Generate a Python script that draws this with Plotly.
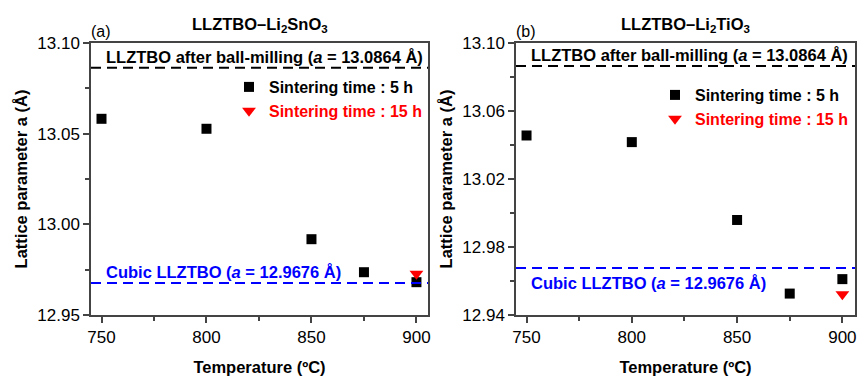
import plotly.graph_objects as go
from plotly.subplots import make_subplots

# ---- data ----
temps = [750, 800, 850, 875, 900]
sn_5h = [13.0582, 13.0527, 12.9918, 12.9736, 12.9681]
sn_15h_temp = [900]
sn_15h = [12.9727]
ti_5h = [13.0456, 13.0417, 12.9959, 12.9526, 12.9611]
ti_15h_temp = [900]
ti_15h = [12.9522]
ball_milled = 13.0864
cubic = 12.9676

FONT = "Liberation Sans, Arial, sans-serif"

# layout geometry (pixels)
W, H = 857, 377
ML, MR, MT, MB = 91, 2, 43, 62
PW, PH = W - ML - MR, H - MT - MB


def px(xp):
    return (xp - ML) / PW


def py(yp):
    return (H - MB - yp) / PH


fig = make_subplots(rows=1, cols=2)

fig.add_trace(go.Scatter(x=temps, y=sn_5h, mode="markers", name="<b>Sintering time : 5 h</b>",
                         marker=dict(symbol="square", size=10, color="black"),
                         legend="legend"), row=1, col=1)
fig.add_trace(go.Scatter(x=sn_15h_temp, y=sn_15h, mode="markers",
                         name="<b><span style='color:#ff0000'>Sintering time : 15 h</span></b>",
                         marker=dict(symbol="triangle-down", size=12, color="#ff0000"),
                         legend="legend"), row=1, col=1)
fig.add_trace(go.Scatter(x=temps, y=ti_5h, mode="markers", name="<b>Sintering time : 5 h</b>",
                         marker=dict(symbol="square", size=10, color="black"),
                         legend="legend2"), row=1, col=2)
fig.add_trace(go.Scatter(x=ti_15h_temp, y=ti_15h, mode="markers",
                         name="<b><span style='color:#ff0000'>Sintering time : 15 h</span></b>",
                         marker=dict(symbol="triangle-down", size=12, color="#ff0000"),
                         legend="legend2"), row=1, col=2)

for xr, yr in (("x", "y"), ("x2", "y2")):
    fig.add_shape(type="line", xref=f"{xr} domain", yref=yr, x0=0, x1=1, y0=ball_milled, y1=ball_milled,
                  line=dict(color="black", width=2, dash="10px,6px"))
    fig.add_shape(type="line", xref=f"{xr} domain", yref=yr, x0=0, x1=1, y0=cubic, y1=cubic,
                  line=dict(color="#0000ff", width=2, dash="10px,6px"))

axis_common = dict(showline=True, linecolor="#444", linewidth=1.5, mirror=True,
                   ticks="outside", ticklen=6, tickwidth=1.5, tickcolor="#444",
                   showgrid=False, zeroline=False,
                   tickfont=dict(family=FONT, size=17, color="black"),
                   minor=dict(ticks="outside", ticklen=4, tickwidth=1.5, tickcolor="#444", showgrid=False))

fig.update_xaxes(axis_common)
fig.update_yaxes(axis_common)

title_font = dict(family=FONT, size=16.5, color="black")
fig.update_xaxes(range=[745, 905.5], tickvals=[750, 800, 850, 900], minor=dict(tickvals=[775, 825, 875]),
                 title=dict(text="<b>Temperature (ºC)</b>", font=title_font), row=1, col=1)
fig.update_xaxes(range=[745, 906], tickvals=[750, 800, 850, 900], minor=dict(tickvals=[775, 825, 875]),
                 title=dict(text="<b>Temperature (ºC)</b>", font=title_font), row=1, col=2)
fig.update_yaxes(range=[12.95, 13.10], tickvals=[12.95, 13.00, 13.05, 13.10], tickformat=".2f",
                 minor=dict(tickvals=[12.975, 13.025, 13.075]),
                 title=dict(text="<b>Lattice parameter a (Å)</b>", font=title_font, standoff=6), row=1, col=1)
fig.update_yaxes(range=[12.94, 13.10], tickvals=[12.94, 12.98, 13.02, 13.06, 13.10], tickformat=".2f",
                 minor=dict(tickvals=[12.96, 13.00, 13.04, 13.08]),
                 title=dict(text="<b>Lattice parameter a (Å)</b>", font=title_font, standoff=6), row=1, col=2)

ann_font = dict(family=FONT, size=16.5, color="black")
blue_font = dict(family=FONT, size=16.5, color="#0000ff")
small_font = dict(family=FONT, size=16, color="black")
annotations = [
    dict(text="<b>LLZTBO–Li<sub>2</sub>SnO<sub>3</sub></b>", xref="x domain", yref="paper", x=0.5, y=py(25),
         showarrow=False, xanchor="center", yanchor="middle", font=dict(family=FONT, size=16.5, color="black")),
    dict(text="<b>LLZTBO–Li<sub>2</sub>TiO<sub>3</sub></b>", xref="x2 domain", yref="paper", x=0.5, y=py(25),
         showarrow=False, xanchor="center", yanchor="middle", font=dict(family=FONT, size=16.5, color="black")),
    dict(text="(a)", xref="paper", yref="paper", x=px(89), y=py(32), showarrow=False,
         xanchor="left", yanchor="middle", font=small_font),
    dict(text="(b)", xref="paper", yref="paper", x=px(514), y=py(32), showarrow=False,
         xanchor="left", yanchor="middle", font=small_font),
    dict(text="<b>LLZTBO after ball-milling (<i>a</i> = 13.0864 Å)</b>", xref="paper", yref="paper",
         x=px(264), y=py(57), showarrow=False, xanchor="center", yanchor="middle", font=ann_font),
    dict(text="<b>LLZTBO after ball-milling (<i>a</i> = 13.0864 Å)</b>", xref="paper", yref="paper",
         x=px(689), y=py(55), showarrow=False, xanchor="center", yanchor="middle", font=ann_font),
    dict(text="<b>Cubic LLZTBO (<i>a</i> = 12.9676 Å)</b>", xref="paper", yref="paper",
         x=px(104), y=py(272), showarrow=False, xanchor="left", yanchor="middle", font=blue_font),
    dict(text="<b>Cubic LLZTBO (<i>a</i> = 12.9676 Å)</b>", xref="paper", yref="paper",
         x=px(529), y=py(283), showarrow=False, xanchor="left", yanchor="middle", font=blue_font),
]

legend_font = dict(family=FONT, size=16, color="black")
fig.update_layout(
    width=W, height=H,
    margin=dict(l=ML, r=MR, t=MT, b=MB, autoexpand=False),
    paper_bgcolor="white", plot_bgcolor="white",
    annotations=annotations,
    legend=dict(x=px(229), y=py(70), xref="paper", yref="paper", xanchor="left", yanchor="top",
                bgcolor="rgba(0,0,0,0)", font=legend_font, borderwidth=0),
    legend2=dict(x=px(655), y=py(78), xref="paper", yref="paper", xanchor="left", yanchor="top",
                 bgcolor="rgba(0,0,0,0)", font=legend_font, borderwidth=0),
)

fig.update_xaxes(domain=[0, px(428)], row=1, col=1)
fig.update_xaxes(domain=[px(516), 1.0], row=1, col=2)
fig.update_yaxes(domain=[0, 1])

fig.write_html("out.html")
